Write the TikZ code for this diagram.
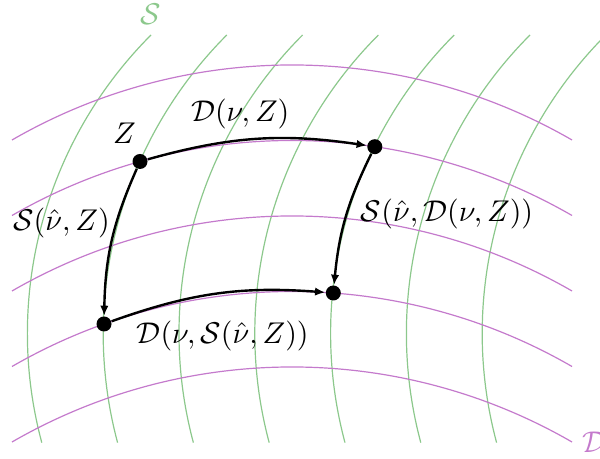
\documentclass[tikz,border=0pt]{standalone}
\usetikzlibrary{arrows.meta, positioning}

\definecolor{sfam}{RGB}{140,200,140}
\definecolor{dfam}{RGB}{196,122,204}

\begin{document}
\begin{tikzpicture}[
    x=0.3333pt, y=0.3333pt,
    sline/.style={sfam, line width=0.4pt},
    dline/.style={dfam, line width=0.4pt},
    point/.style={circle, fill=black, inner sep=0pt, minimum size=5pt},
    flow/.style={-{Latex[length=3.4pt, width=2.8pt]}, thick},
]
\useasboundingbox (0,0) rectangle (600,459);

% S family
\foreach \j in {0,...,6}
    \draw[sline] ({151+75.8*\j},424) arc[start angle=135, end angle=195, radius=422];
\node[text=sfam, above] (sname) at (151,424) {$\mathcal{S}$};

% D family
\foreach \k in {0,...,4}
    \draw[dline] (12,{319-75.5*\k}) arc[start angle=120, end angle=60, radius=560];
\node[text=dfam, right] (dname) at (572,17) {$\mathcal{D}$};

% Points
\node[point] (Z) at (140,297.5) {};
\node[point] (DZ) at (374.8,312.3) {};
\node[point] (SZ) at (104,135) {};
\node[point] (DSZ) at (333.3,166) {};
\node[above left=0.5pt and -4pt of Z] (zname) {$Z$};

% Arrows
\draw[flow] (Z) to[bend left=12]
    node[pos=0.42, above] (dzlabel) {$\mathcal{D}(\nu,Z)$} (DZ);
\draw[flow] (Z) to[bend right=11.4]
    node[pos=0.37, left=-1.5pt] (szlabel) {$\mathcal{S}(\hat{\nu},Z)$} (SZ);
\draw[flow] (DZ) to[bend right=10.4]
    node[pos=0.47, right=1pt] (sdzlabel) {$\mathcal{S}(\hat{\nu},\mathcal{D}(\nu,Z))$} (DSZ);
\draw[flow] (SZ) to[bend left=12]
    node[pos=0.53, below=5.5pt] (dszlabel) {$\mathcal{D}(\nu,\mathcal{S}(\hat{\nu},Z))$} (DSZ);

\end{tikzpicture}
\end{document}
